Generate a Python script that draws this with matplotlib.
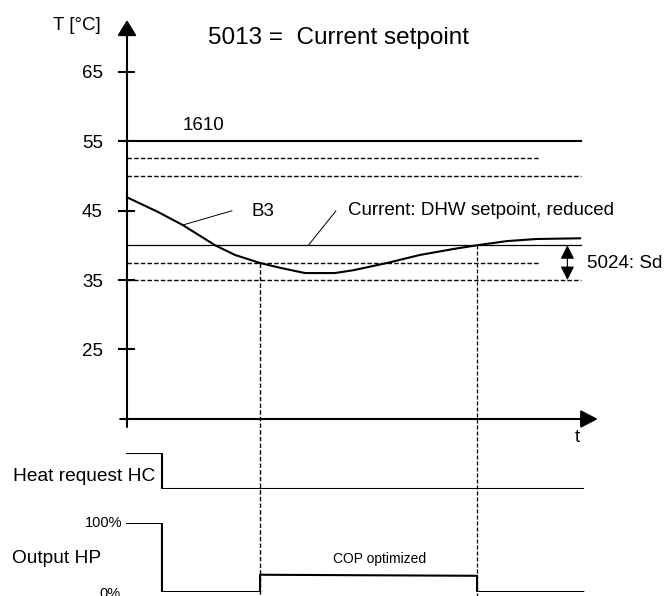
import numpy as np
import matplotlib
matplotlib.use("Agg")
import matplotlib.pyplot as plt

plt.rcParams['font.family'] = ['Liberation Sans', 'DejaVu Sans']

# Storage tank temperature B3 over time (time in arbitrary units)
b3_time = [0.0, 0.68, 1.23, 1.94, 2.38, 2.93, 3.41, 3.92, 4.58, 4.98,
           5.73, 6.45, 7.18, 7.71, 8.37, 9.03, 9.98]
b3_temp = [46.9, 44.8, 42.9, 40.0, 38.6, 37.45, 36.7, 36.0, 36.0, 36.4,
           37.45, 38.6, 39.45, 40.0, 40.6, 40.9, 41.0]

temp_ticks = [65, 55, 45, 35, 25]
legionella_setpoint = 55          # 1610
upper_limits = [52.5, 50]         # dashed upper switching levels
dhw_setpoint_reduced = 40         # current setpoint
switch_diff_levels = [37.5, 35]   # 5024: switching differential
t_end = 10.0
t_short = 9.1

# Switching events (on at B3 < 37.5, off when reaching setpoint)
t_hc_off = 0.77
t_hp_on = 2.93
t_hp_off = 7.71
temp_hp_on = 37.5
temp_hp_off = 40

# Heat request HC (1 = on)
hc_time = [0.0, t_hc_off, 10.05]
hc_level = [1, 0, 0]

# Output of heat pump in %
hp_time = [0.0, t_hc_off, t_hp_on, t_hp_off, 10.05]
hp_start = [100, 0, 25, 0, 0]
hp_end = [100, 0, 23.5, 0, 0]

W, H = 667, 596
fig = plt.figure(figsize=(W / 100, H / 100), dpi=100)
ax = fig.add_axes([0, 0, 1, 1])
ax.set_xlim(-2.797, 11.894)
ax.set_ylim(-10.468, 75.288)
ax.axis('off')

lw_axis = 1.5
dash = (3.2, 1.6)

# axes with arrows
ax.annotate('', xy=(0, 72.4), xytext=(0, 13.85),
            arrowprops=dict(arrowstyle='-|>,head_length=0.47,head_width=0.29',
                            mutation_scale=20, lw=lw_axis, color='black',
                            shrinkA=0, shrinkB=0))
ax.annotate('', xy=(10.37, 15), xytext=(-0.15, 15),
            arrowprops=dict(arrowstyle='-|>,head_length=0.52,head_width=0.27',
                            mutation_scale=20, lw=lw_axis, color='black',
                            shrinkA=0, shrinkB=0))
for v in temp_ticks:
    ax.plot([-0.2, 0.18], [v, v], color='black', lw=lw_axis, solid_capstyle='butt')
    ax.text(-0.53, v - 0.95, str(v), ha='right', va='baseline', fontsize=13.5)

ax.text(-1.63, 70.97, "T [°C]", ha='left', va='baseline', fontsize=13.5)
ax.text(1.78, 68.96, "5013 =  Current setpoint", ha='left', va='baseline', fontsize=17.5)
ax.text(9.91, 11.73, "t", ha='center', va='baseline', fontsize=13.5)

# setpoint levels
ax.plot([0, t_end], [legionella_setpoint] * 2, color='black', lw=1.5)
ax.text(1.23, 56.58, "1610", ha='left', va='baseline', fontsize=13.5)
ax.plot([0, t_short], [upper_limits[0]] * 2, color='black', lw=1.0, dashes=dash)
ax.plot([0, t_end], [upper_limits[1]] * 2, color='black', lw=1.0, dashes=dash)
ax.plot([0, t_end], [dhw_setpoint_reduced] * 2, color='black', lw=0.9)
ax.plot([0, t_short], [switch_diff_levels[0]] * 2, color='black', lw=1.0, dashes=dash)
ax.plot([0, t_end], [switch_diff_levels[1]] * 2, color='black', lw=1.0, dashes=dash)

# B3 curve
ax.plot(b3_time, b3_temp, color='black', lw=1.5)
ax.plot([1.23, 2.31], [42.91, 44.96], color='black', lw=0.7)
ax.text(2.75, 44.2, "B3", ha='left', va='baseline', fontsize=13.5)
ax.plot([3.99, 4.6], [39.96, 44.93], color='black', lw=0.7)
ax.text(4.87, 44.35, "Current: DHW setpoint, reduced", ha='left', va='baseline', fontsize=13.5)

# switching differential
ax.annotate('', xy=(9.7, switch_diff_levels[1]), xytext=(9.7, dhw_setpoint_reduced),
            arrowprops=dict(arrowstyle='<|-|>,head_length=0.7,head_width=0.35',
                            mutation_scale=12, lw=0.8, color='black',
                            shrinkA=0, shrinkB=0))
ax.text(10.13, 36.7, "5024: Sd", ha='left', va='baseline', fontsize=13.5)

# switching instants down through the signal rows
ax.plot([t_hp_on, t_hp_on], [temp_hp_on, -10.468], color='black', lw=1.0, dashes=dash)
ax.plot([t_hp_off, t_hp_off], [temp_hp_off, -10.468], color='black', lw=0.9, dashes=dash)

# heat request row
ax_hc = fig.add_axes([0, (H - 489) / H, 1, 36 / H], sharex=ax)
ax_hc.set_ylim(0, 1)
ax_hc.axis('off')
ax_hc.patch.set_alpha(0)
ax_hc.step(hc_time, hc_level, where='post', color='black', lw=1.5)
ax.text(-2.51, 6.08, "Heat request HC", ha='left', va='baseline', fontsize=13.8)

# heat pump output row
ax_hp = fig.add_axes([0, (H - 592) / H, 1, 69 / H], sharex=ax)
ax_hp.set_ylim(0, 100)
ax_hp.axis('off')
ax_hp.patch.set_alpha(0)
px, py = [], []
for i in range(len(hp_time) - 1):
    px += [hp_time[i], hp_time[i + 1]]
    py += [hp_start[i], hp_end[i]]
ax_hp.plot(px, py, color='black', lw=1.5)
ax.text(-0.11, -0.58, "100%", ha='right', va='baseline', fontsize=10.5)
ax.text(-0.15, -10.76, "0%", ha='right', va='baseline', fontsize=10.5)
ax.text(-2.53, -5.77, "Output HP", ha='left', va='baseline', fontsize=13.8)
ax.text(5.57, -5.75, "COP optimized", ha='center', va='baseline', fontsize=10)

fig.savefig("out.png", dpi=100)
